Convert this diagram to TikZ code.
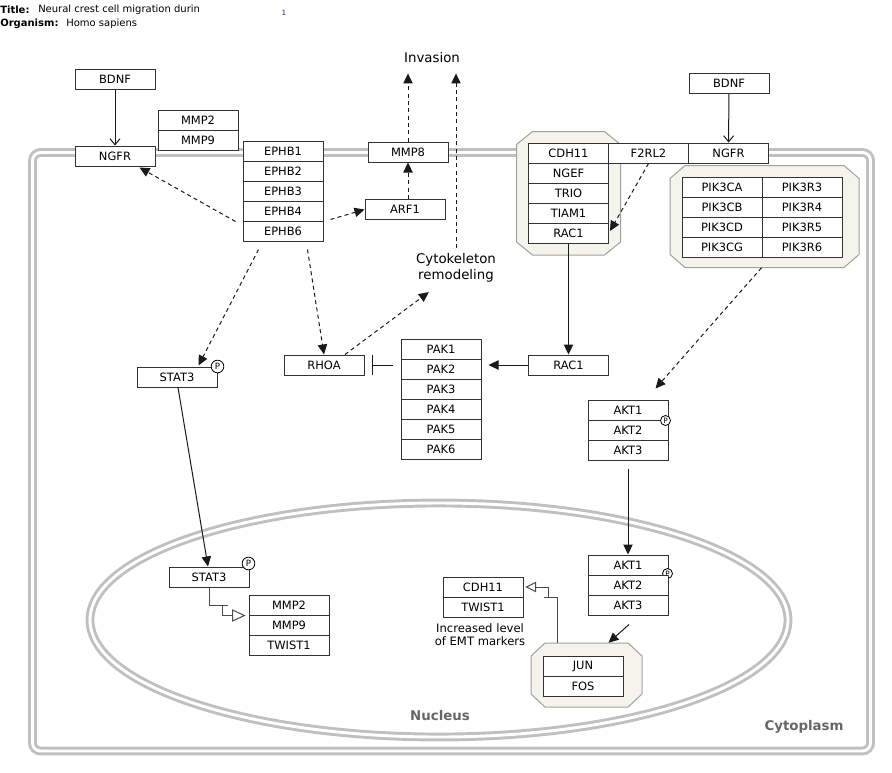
\documentclass[tikz,border=0pt]{standalone}
\usepackage{fontspec}
\setmainfont{DejaVu Sans}
\usetikzlibrary{arrows.meta,calc,fit}
\definecolor{membr}{RGB}{192,192,192}
\definecolor{grpfill}{RGB}{244,244,236}
\definecolor{grpline}{RGB}{160,160,160}
\definecolor{lblgray}{RGB}{102,102,102}
\definecolor{edgec}{RGB}{25,25,25}
\definecolor{pgnum}{RGB}{40,40,140}

% octagonal group background: name, x1, y1, x2, y2, corner cut
\newcommand\pwgroup[6]{%
  \filldraw[grpst] (#2+#6,#3) -- (#4-#6,#3) -- (#4,#3+13) -- (#4,#5-13)
    -- (#4-#6,#5) -- (#2+#6,#5) -- (#2,#5-13) -- (#2,#3+13) -- cycle;
  \path (#2,#3) coordinate (#1nw) (#4,#5) coordinate (#1se);
  \node[fit=(#1nw)(#1se), inner sep=0pt] (#1) {};
}

\begin{document}
\begin{tikzpicture}[x=0.75pt,y=-0.75pt,
  gene/.style={draw=black!80, line width=0.75pt, fill=white, minimum width=60pt,
    minimum height=15pt, inner sep=0pt, font=\fontsize{8.6}{10}\selectfont},
  membrane/.style={draw=membr, line width=2.2pt, double=white, double distance=2.2pt},
  grpst/.style={fill=grpfill, draw=grpline, line width=0.75pt},
  phos/.style={circle, draw=black, fill=white, line width=0.6pt, inner sep=0pt,
    minimum size=9.5pt, font=\fontsize{6.5}{7}\selectfont},
  phossm/.style={phos, minimum size=7.5pt, font=\fontsize{5.5}{6}\selectfont},
  conn/.style={draw=edgec, line width=0.75pt},
  stim/.style={conn, -{Triangle[length=7.5pt,width=7pt]}},
  dstim/.style={stim, dash pattern=on 3pt off 2.5pt},
  bind/.style={conn, -{Straight Barb[length=4.5pt,width=7.5pt]}},
  inhib/.style={conn, -{Bar[width=15pt,line width=1.2pt]}},
  txline/.style={draw=black!70, line width=0.75pt},
  txhead/.style={draw=black!70, fill=white, line width=0.75pt, line join=miter},
  bigtext/.style={font=\fontsize{10}{12.4}\selectfont, align=center, inner sep=0pt},
  comptext/.style={font=\fontsize{10}{12}\selectfont\bfseries, text=lblgray, inner sep=0pt},
  hdr/.style={anchor=west, inner sep=0pt, font=\fontsize{7.5}{9}\selectfont},
]
\useasboundingbox (0,0) rectangle (892,772);

% header
\node[hdr, font=\fontsize{7.5}{9}\selectfont\bfseries] (ttlK) at (0,10) {Title:};
\node[hdr] (ttlV) at (38,10) {Neural crest cell migration durin};
\node[hdr, font=\fontsize{7.5}{9}\selectfont\bfseries] (orgK) at (0,24) {Organism:};
\node[hdr] (orgV) at (66,24) {Homo sapiens};
\node[text=pgnum, inner sep=0pt, font=\fontsize{5.5}{6}\selectfont] (pgNo) at (284,13) {1};

% compartments
\draw[membrane, rounded corners=6pt] (32.5,152.5) rectangle (870.5,751);
\draw[membrane] (439,620) ellipse [x radius=349, y radius=117];
\node[comptext] (nucLbl) at (440,716) {Nucleus};
\node[comptext] (cytLbl) at (804,727) {Cytoplasm};

% groups
\pwgroup{gCDH}{516.5}{131.5}{620.5}{255}{16}
\pwgroup{gPIK}{670}{165.5}{859}{267.5}{15}
\pwgroup{gJUN}{531}{643}{642}{707}{14}

% receptors and ligands, left
\node[gene] (bdnfL) at (115,79) {BDNF};
\node[gene] (ngfrL) at (115,156) {NGFR};
\node[gene] (mmp2t) at (198,120) {MMP2};
\node[gene] (mmp9t) at (198,140) {MMP9};
\node[gene] (ephb1) at (283,151) {EPHB1};
\node[gene] (ephb2) at (283,171) {EPHB2};
\node[gene] (ephb3) at (283,191) {EPHB3};
\node[gene] (ephb4) at (283,211) {EPHB4};
\node[gene] (ephb6) at (283,231) {EPHB6};
\node[gene] (mmp8) at (408,152) {MMP8};
\node[gene] (arf1) at (405,209.5) {ARF1};

% free-text labels
\node[bigtext, inner ysep=7.5pt] (invasion) at (432,58) {Invasion};
\node[bigtext, inner ysep=3.8pt] (cyto) at (456,268) {Cytokeleton\\remodeling};
\node[bigtext, font=\fontsize{8.7}{9.6}\selectfont] (emt) at (480,635) {Increased level\\of EMT markers};

% receptors, right
\node[gene] (cdh11a) at (568.5,153) {CDH11};
\node[gene] (ngef) at (568.5,173) {NGEF};
\node[gene] (trio) at (568.5,193) {TRIO};
\node[gene] (tiam1) at (568.5,213) {TIAM1};
\node[gene] (rac1g) at (568.5,233) {RAC1};
\node[gene] (f2rl2) at (648.5,153) {F2RL2};
\node[gene] (ngfrR) at (728.5,153) {NGFR};
\node[gene] (bdnfR) at (729,83) {BDNF};

% PI3K complex
\node[gene] (pik3ca) at (722,187) {PIK3CA};
\node[gene] (pik3cb) at (722,207) {PIK3CB};
\node[gene] (pik3cd) at (722,227) {PIK3CD};
\node[gene] (pik3cg) at (722,247) {PIK3CG};
\node[gene] (pik3r3) at (802,187) {PIK3R3};
\node[gene] (pik3r4) at (802,207) {PIK3R4};
\node[gene] (pik3r5) at (802,227) {PIK3R5};
\node[gene] (pik3r6) at (802,247) {PIK3R6};

% cytoplasmic signalling
\node[gene] (stat3t) at (177,377) {STAT3};
\node[phos] (pSt) at (stat3t.north east) {P};
\node[gene] (rhoa) at (324,365) {RHOA};
\node[gene] (pak1) at (441,349) {PAK1};
\node[gene] (pak2) at (441,369) {PAK2};
\node[gene] (pak3) at (441,389) {PAK3};
\node[gene] (pak4) at (441,409) {PAK4};
\node[gene] (pak5) at (441,429) {PAK5};
\node[gene] (pak6) at (441,449) {PAK6};
\node[gene] (rac1m) at (568.5,365) {RAC1};
\node[gene] (akt1t) at (628,410) {AKT1};
\node[gene] (akt2t) at (628,430) {AKT2};
\node[gene] (akt3t) at (628,450) {AKT3};
\node[phossm] (pAt) at ($(akt1t.south east)+(-3,0)$) {P};

% nucleus
\node[gene] (stat3b) at (209,577) {STAT3};
\node[phos] (pSb) at ($(stat3b.north east)+(-1,-3)$) {P};
\node[gene] (mmp2b) at (289,605) {MMP2};
\node[gene] (mmp9b) at (289,625) {MMP9};
\node[gene] (twist1b) at (289,645) {TWIST1};
\node[gene] (cdh11b) at (483,587) {CDH11};
\node[gene] (twist1c) at (483,607) {TWIST1};
\node[gene] (akt1b) at (628,565) {AKT1};
\node[phossm] (pAb) at ($(akt1b.south east)+(-1,-2)$) {P};
\node[gene] (akt2b) at (628,585) {AKT2};
\node[gene] (akt3b) at (628,605) {AKT3};
\node[gene] (jun) at (583,666) {JUN};
\node[gene] (fos) at (583,686) {FOS};

% interactions
\draw[bind] (bdnfL) -- (ngfrL);
\draw[bind] (bdnfR) -- (ngfrR);
\draw[dstim] ($(ephb4.south west)+(-7,0)$) -- ($(ngfrL.south east)+(-16,1)$);
\draw[dstim] ($(ephb4.south east)+(7,-2)$) -- (arf1.west);
\draw[dstim] (mmp8.south |- arf1.north) -- (mmp8.south);
\draw[dstim] (mmp8.north) -- (mmp8.north |- invasion.south);
\draw[dstim] (cyto.north) -- (cyto.north |- invasion.south);
\draw[dstim] ($(ephb6.south west)+(16,8)$) -- ($(stat3t.north east)+(-19,-1)$);
\draw[dstim] ($(ephb6.south east)+(-16,8)$) -- (rhoa.north);
\draw[dstim] ($(rhoa.north)+(21,0)$) -- ($(cyto.south west)+(13,4)$);
\draw[inhib] ($(pak2.west |- rhoa.east)+(-8,0)$) -- ($(rhoa.east)+(7,0)$);
\draw[stim] (rac1m.west) -- ($(pak2.east |- rac1m.west)+(7,0)$);
\draw[stim] (rac1g.south) -- (rac1m.north);
\draw[dstim] (f2rl2.south) -- ($(rac1g.east)+(1,-2)$);
\draw[dstim] ($(gPIK.south)+(-3,0)$) -- ($(akt1t.north east)+(-13,-11)$);
\draw[stim] ($(akt3t.south)+(0,8)$) -- (akt1b.north);
\draw[stim] ($(akt3b.south)+(1,9)$) -- ($(gJUN.north)+(22,0)$);
\draw[stim] ($(stat3t.south)+(1,0)$) -- ($(stat3b.north)+(-1,0)$);

% transcription: STAT3 -> MMP2 / MMP9 / TWIST1
\coordinate (txA) at ($(mmp2b.south west)+(-4,0)$);
\draw[txline] (stat3b.south) |- ($(txA)+(-17,-10)$);
\draw[txline] ($(txA)+(-22,-10)$) |- ($(txA)+(-12,0)$);
\draw[txhead] ($(txA)+(-12,-5.5)$) -- (txA) -- ($(txA)+(-12,5.5)$) -- cycle;

% transcription: JUN / FOS -> CDH11 / TWIST1
\coordinate (txB) at ($(cdh11b.east)+(3,0)$);
\draw[txline] ($(gJUN.north)+(-29.5,0)$) |- ($(txB)+(17,10)$);
\draw[txline] ($(txB)+(22,10)$) |- ($(txB)+(9,0)$);
\draw[txhead] ($(txB)+(9,-4.5)$) -- (txB) -- ($(txB)+(9,4.5)$) -- cycle;
\end{tikzpicture}
\end{document}
